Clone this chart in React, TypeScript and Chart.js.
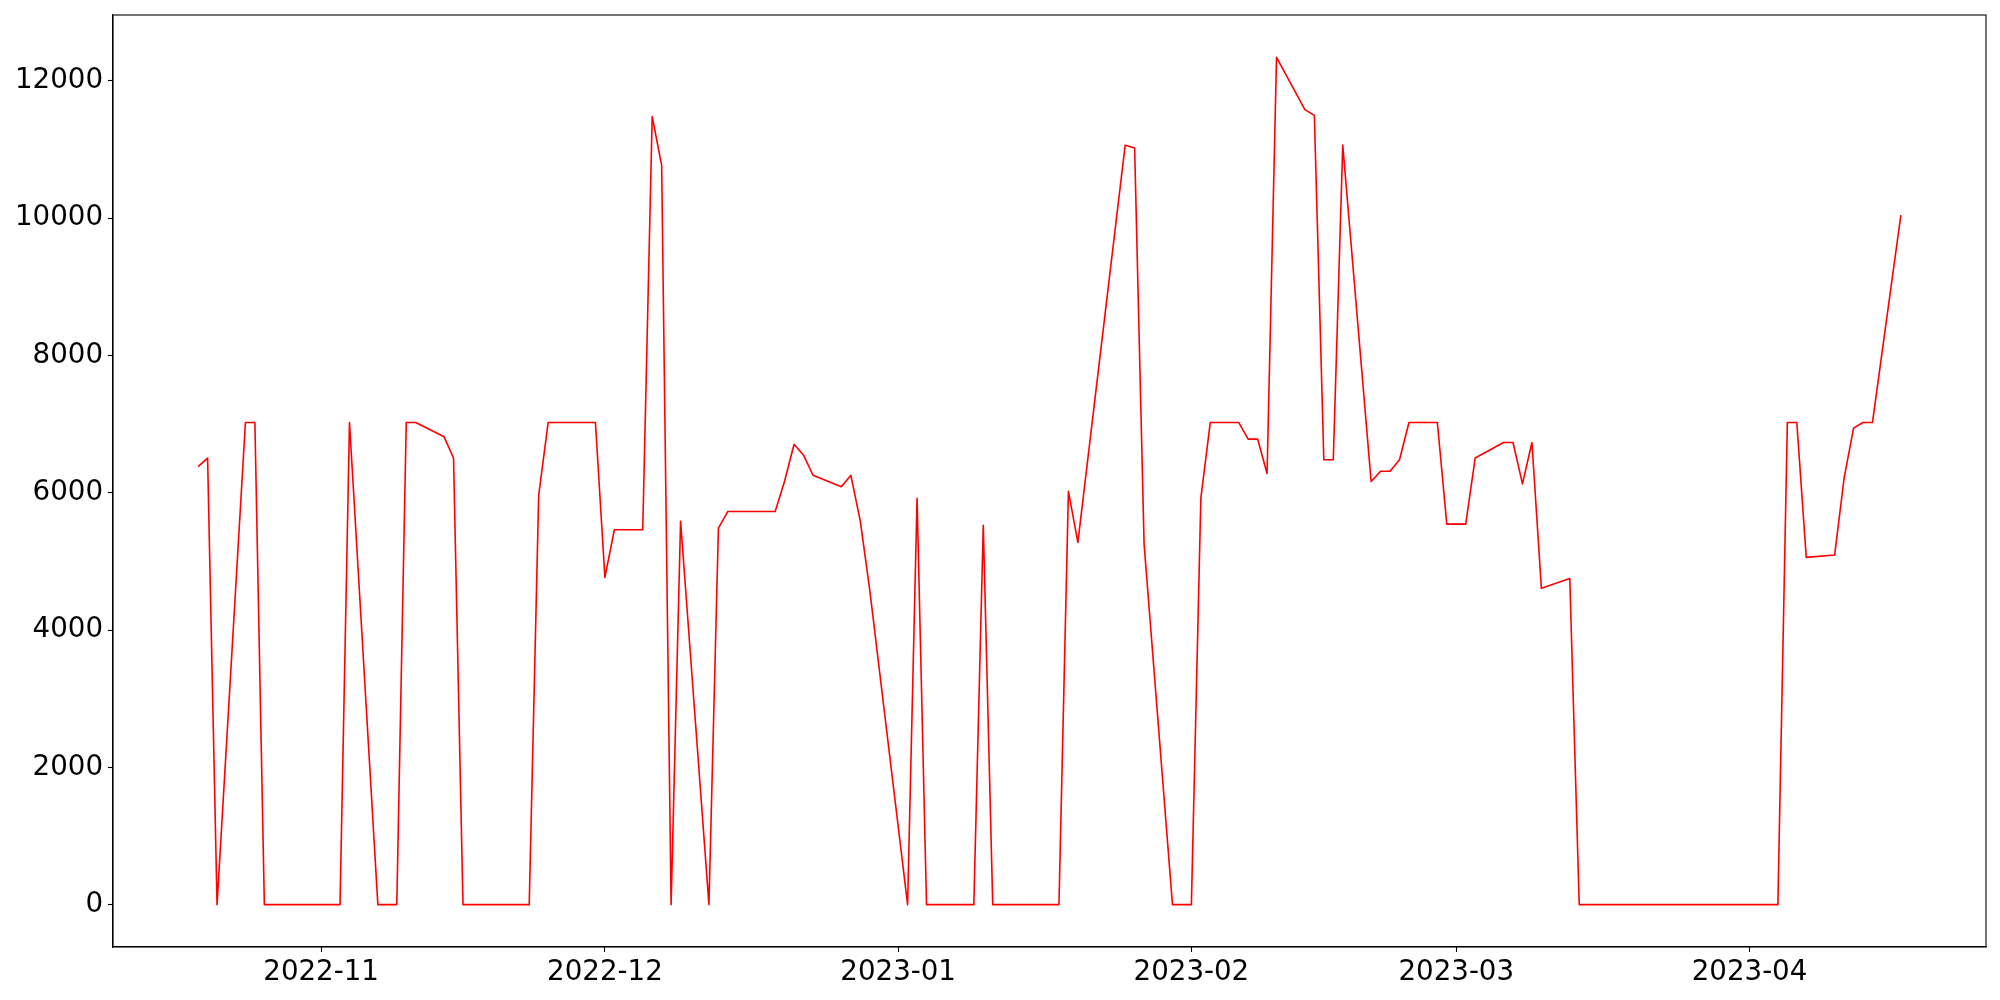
import React, { useEffect, useRef } from "react";
import { Chart, registerables } from "chart.js";

Chart.register(...registerables);

const dates: string[] = [
  "2022-10-19", "2022-10-20", "2022-10-21", "2022-10-24", "2022-10-25", "2022-10-26", "2022-10-27", "2022-10-28",
  "2022-10-31", "2022-11-01", "2022-11-02", "2022-11-03", "2022-11-04", "2022-11-07", "2022-11-08", "2022-11-09",
  "2022-11-10", "2022-11-11", "2022-11-14", "2022-11-15", "2022-11-16", "2022-11-17", "2022-11-18", "2022-11-21",
  "2022-11-22", "2022-11-23", "2022-11-24", "2022-11-25", "2022-11-28", "2022-11-29", "2022-11-30", "2022-12-01",
  "2022-12-02", "2022-12-05", "2022-12-06", "2022-12-07", "2022-12-08", "2022-12-09", "2022-12-12", "2022-12-13",
  "2022-12-14", "2022-12-15", "2022-12-16", "2022-12-19", "2022-12-20", "2022-12-21", "2022-12-22", "2022-12-23",
  "2022-12-26", "2022-12-27", "2022-12-28", "2022-12-29", "2023-01-02", "2023-01-03", "2023-01-04", "2023-01-05",
  "2023-01-06", "2023-01-09", "2023-01-10", "2023-01-11", "2023-01-12", "2023-01-13", "2023-01-16", "2023-01-17",
  "2023-01-18", "2023-01-19", "2023-01-20", "2023-01-25", "2023-01-26", "2023-01-27", "2023-01-30", "2023-01-31",
  "2023-02-01", "2023-02-02", "2023-02-03", "2023-02-06", "2023-02-07", "2023-02-08", "2023-02-09", "2023-02-10",
  "2023-02-13", "2023-02-14", "2023-02-15", "2023-02-16", "2023-02-17", "2023-02-20", "2023-02-21", "2023-02-22",
  "2023-02-23", "2023-02-24", "2023-02-27", "2023-02-28", "2023-03-01", "2023-03-02", "2023-03-03", "2023-03-06",
  "2023-03-07", "2023-03-08", "2023-03-09", "2023-03-10", "2023-03-13", "2023-03-14", "2023-03-15", "2023-03-16",
  "2023-03-17", "2023-03-20", "2023-03-21", "2023-03-22", "2023-03-23", "2023-03-24", "2023-03-27", "2023-03-28",
  "2023-03-29", "2023-03-30", "2023-03-31", "2023-04-03", "2023-04-04", "2023-04-05", "2023-04-06", "2023-04-07",
  "2023-04-10", "2023-04-11", "2023-04-12", "2023-04-13", "2023-04-14", "2023-04-17",
];

const values: number[] = [
  6380, 6505, 0, 7023, 7023, 0, 0, 0,
  0, 0, 0, 0, 7023, 0, 0, 0,
  7023, 7023, 6814, 6505, 0, 0, 0, 0,
  0, 0, 5961, 7023, 7023, 7023, 7023, 4766,
  5460, 5460, 11480, 10769, 0, 5585, 0, 5485,
  5727, 5727, 5727, 5727, 6170, 6705, 6547, 6254,
  6087, 6254, 5585, 4582, 0, 5920, 0, 0,
  0, 0, 5527, 0, 0, 0, 0, 0,
  0, 6020, 5276, 11062, 11020, 5251, 0, 0,
  0, 5920, 7023, 7023, 6781, 6781, 6279, 12341,
  11580, 11496, 6480, 6480, 11062, 6162, 6313, 6313,
  6480, 7023, 7023, 5543, 5543, 5543, 6505, 6731,
  6731, 6129, 6731, 4607, 4749, 0, 0, 0,
  0, 0, 0, 0, 0, 0, 0, 0,
  0, 0, 0, 0, 0, 7023, 7023, 5058,
  5092, 6212, 6940, 7023, 7023, 10042,
];

const monthTicks: string[] = ["2022-11-01", "2022-12-01", "2023-01-01", "2023-02-01", "2023-03-01", "2023-04-01"];
const monthLabels: string[] = ["2022-11", "2022-12", "2023-01", "2023-02", "2023-03", "2023-04"];
const yTicks: number[] = [0, 2000, 4000, 6000, 8000, 10000, 12000];

const toDay = (s: string): number => {
  const [y, m, d] = s.split("-").map(Number);
  return Date.UTC(y, m - 1, d) / 86400000;
};

const FONT = { family: "'DejaVu Sans', sans-serif", size: 27.7 };

export default function App() {
  const ref = useRef<HTMLCanvasElement>(null);

  useEffect(() => {
    if (!ref.current) return;
    const xs = dates.map(toDay);
    const xMin = Math.min(...xs);
    const xMax = Math.max(...xs);
    const xPad = (xMax - xMin) * 0.05;
    const yMin = Math.min(...values);
    const yMax = Math.max(...values);
    const yPad = (yMax - yMin) * 0.05;

    const frame = {
      id: "frame",
      afterDatasetsDraw(chart: any) {
        const { ctx, chartArea: a } = chart;
        ctx.save();
        ctx.strokeStyle = "#000";
        ctx.lineWidth = 1.1;
        ctx.strokeRect(a.left, a.top, a.right - a.left, a.bottom - a.top);
        ctx.restore();
      },
    };

    const chart = new Chart(ref.current, {
      type: "line",
      data: {
        datasets: [
          {
            data: xs.map((x, i) => ({ x, y: values[i] })),
            borderColor: "#ff0000",
            borderWidth: 1.6,
            borderJoinStyle: "round",
            pointRadius: 0,
            tension: 0,
            fill: false,
          },
        ],
      },
      options: {
        responsive: false,
        animation: false,
        layout: { padding: { left: 0, top: 15, right: 14, bottom: 0 } },
        plugins: { legend: { display: false }, tooltip: { enabled: false } },
        scales: {
          x: {
            type: "linear",
            min: xMin - xPad,
            max: xMax + xPad,
            afterBuildTicks: (axis: any) => {
              axis.ticks = monthTicks.map((s) => ({ value: toDay(s) }));
            },
            afterFit: (axis: any) => {
              axis.height = 53;
              axis.paddingLeft = 0;
              axis.paddingRight = 0;
            },
            ticks: {
              callback: (_v: any, i: number) => monthLabels[i] ?? "",
              font: FONT,
              color: "#000",
              maxRotation: 0,
              autoSkip: false,
              padding: 4,
            },
            grid: { drawOnChartArea: false, tickLength: 5, tickColor: "#000", tickWidth: 1.1 },
            border: { color: "#000", width: 1.1 },
          },
          y: {
            type: "linear",
            min: yMin - yPad,
            max: yMax + yPad,
            afterBuildTicks: (axis: any) => {
              axis.ticks = yTicks.map((v) => ({ value: v }));
            },
            afterFit: (axis: any) => {
              axis.width = 113;
              axis.paddingTop = 0;
              axis.paddingBottom = 0;
            },
            ticks: {
              callback: (v: any) => String(v),
              font: FONT,
              color: "#000",
              autoSkip: false,
              padding: 5,
            },
            grid: { drawOnChartArea: false, tickLength: 5, tickColor: "#000", tickWidth: 1.1 },
            border: { color: "#000", width: 1.1 },
          },
        },
      },
      plugins: [frame],
    });
    return () => chart.destroy();
  }, []);

  return (
    <div style={{ position: "absolute", left: 0, top: 0, width: 2000, height: 1000, background: "#fff" }}>
      <canvas ref={ref} width={2000} height={1000} style={{ display: "block", width: 2000, height: 1000 }} />
    </div>
  );
}
